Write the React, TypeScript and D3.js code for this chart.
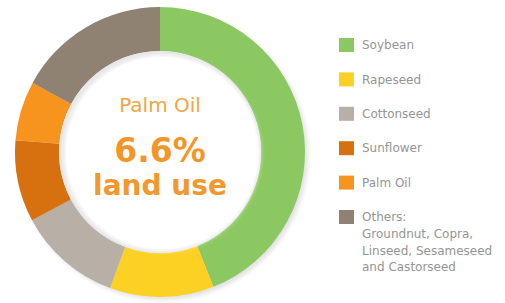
import { useEffect, useRef } from "react"
import * as d3 from "d3"

const categories = ["Soybean", "Rapeseed", "Cottonseed", "Sunflower", "Palm Oil", "Others"]
const shares = [44, 11.6, 11.6, 9.1, 6.6, 17.1]
const colors = ["#8cc862", "#fdd124", "#b8b0a6", "#d7700f", "#f7941e", "#8f8272"]
const legendLabels = [
	["Soybean"],
	["Rapeseed"],
	["Cottonseed"],
	["Sunflower"],
	["Palm Oil"],
	["Others:", "Groundnut, Copra,", "Linseed, Sesameseed", "and Castorseed"],
]
const centerLines = ["Palm Oil", "6.6%", "land use"]

function App() {
	const ref = useRef<SVGSVGElement>(null)
	const width = 505
	const height = 303
	const cx = 160
	const cy = 152
	const outer = 145
	const inner = 101

	useEffect(() => {
		const svg = d3.select(ref.current)
		svg.selectAll("*").remove()

		const defs = svg.append("defs")
		defs
			.append("filter")
			.attr("id", "blur")
			.append("feGaussianBlur")
			.attr("stdDeviation", 2)

		const g = svg.append("g").attr("transform", `translate(${cx},${cy})`)

		// soft shadow behind the ring
		g.append("circle")
			.attr("cx", 3)
			.attr("cy", 3)
			.attr("r", outer)
			.attr("fill", "#e2e2e2")
			.attr("filter", "url(#blur)")

		const pie = d3
			.pie<number>()
			.sort(null)
			.value((d) => d)
		const arc = d3
			.arc<d3.PieArcDatum<number>>()
			.innerRadius(inner)
			.outerRadius(outer)

		g.selectAll("path.slice")
			.data(pie(shares))
			.enter()
			.append("path")
			.attr("class", "slice")
			.attr("d", arc)
			.attr("fill", (d, i) => colors[i])

		// inner hole with light grey rim
		g.append("circle").attr("r", inner).attr("fill", "#e6e6e6")
		g.append("circle")
			.attr("cx", 2)
			.attr("cy", 1)
			.attr("r", inner - 3)
			.attr("fill", "#ffffff")
			.attr("filter", "url(#blur)")
		g.append("circle").attr("cx", 2).attr("cy", 1).attr("r", inner - 5).attr("fill", "#ffffff")

		const center = g.append("g").attr("font-family", "'DejaVu Sans', sans-serif").attr("text-anchor", "middle")
		center
			.append("text")
			.attr("y", -40)
			.attr("font-size", 20)
			.attr("fill", "#f2a442")
			.text(centerLines[0])
		center
			.append("text")
			.attr("y", 10)
			.attr("font-size", 33)
			.attr("font-weight", 700)
			.attr("fill", "#f3962a")
			.text(centerLines[1])
		center
			.append("text")
			.attr("y", 43)
			.attr("font-size", 28)
			.attr("font-weight", 700)
			.attr("fill", "#f3982e")
			.text(centerLines[2])

		const y = d3
			.scalePoint<string>()
			.domain(categories)
			.range([45, 217])

		const legend = svg
			.append("g")
			.attr("font-family", "'DejaVu Sans', sans-serif")
			.attr("font-size", 12)
			.attr("fill", "#959595")

		const rows = legend
			.selectAll("g.row")
			.data(categories)
			.enter()
			.append("g")
			.attr("class", "row")
			.attr("transform", (d) => `translate(339,${y(d)})`)

		rows.append("rect")
			.attr("x", 0)
			.attr("y", -7)
			.attr("width", 15)
			.attr("height", 14)
			.attr("fill", (d, i) => colors[i])

		rows.each(function (d, i) {
			const row = d3.select(this)
			legendLabels[i].forEach((line, j) => {
				row.append("text")
					.attr("x", 23)
					.attr("y", j * 16.7)
					.attr("dy", "0.35em")
					.text(line)
			})
		})
	}, [])

	return (
		<svg
			ref={ref}
			width={width}
			height={height}
			style={{ position: "absolute", left: 0, top: 0, background: "#fff" }}
		></svg>
	)
}

export default App
